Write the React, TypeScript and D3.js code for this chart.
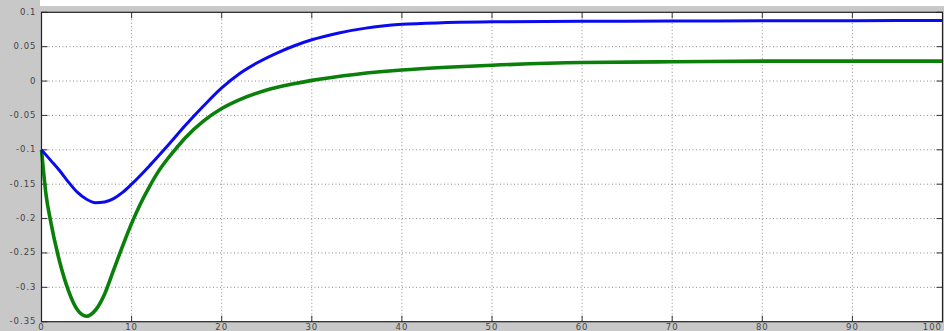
import React from "react";
import * as d3 from "d3";

const width = 944;
const height = 331;
const plot = { left: 41.5, right: 942.5, top: 12.3, bottom: 321.7 };

// time samples
const blueT = [0, 1, 2, 3, 4, 5, 6, 7, 8, 9, 10, 12, 14, 16, 18, 20, 22, 24, 26, 28, 30, 33, 36, 40, 45, 50, 60, 70, 80, 90, 100];
const blueV = [-0.1, -0.115, -0.13, -0.147, -0.162, -0.172, -0.177, -0.176, -0.171, -0.162, -0.15, -0.123, -0.094, -0.064, -0.036, -0.01, 0.011, 0.027, 0.04, 0.051, 0.06, 0.07, 0.077, 0.0825, 0.085, 0.0863, 0.0869, 0.0873, 0.0876, 0.0878, 0.088];

const greenT = [0, 0.5, 1, 2, 3, 4, 5, 6, 7, 8, 9, 10, 11, 12, 13, 14, 15, 16, 18, 20, 22, 25, 28, 30, 35, 40, 45, 50, 60, 70, 80, 90, 100];
const greenV = [-0.1, -0.165, -0.203, -0.262, -0.305, -0.333, -0.342, -0.333, -0.31, -0.275, -0.24, -0.207, -0.178, -0.153, -0.131, -0.113, -0.097, -0.082, -0.058, -0.04, -0.027, -0.013, -0.004, 0.001, 0.01, 0.016, 0.02, 0.023, 0.027, 0.028, 0.029, 0.029, 0.029];

const xTicks = [0, 10, 20, 30, 40, 50, 60, 70, 80, 90, 100];
const yTicks = [0.1, 0.05, 0, -0.05, -0.1, -0.15, -0.2, -0.25, -0.3, -0.35];

const x = d3.scaleLinear().domain([0, 100]).range([plot.left, plot.right]);
const y = d3.scaleLinear().domain([-0.35, 0.1]).range([plot.bottom, plot.top]);

const line = d3
  .line<[number, number]>()
  .x((d) => x(d[0]))
  .y((d) => y(d[1]))
  .curve(d3.curveMonotoneX);

const zip = (t: number[], v: number[]) => t.map((d, i) => [d, v[i]] as [number, number]);

const tickLen = 6;
const font = { fontFamily: "DejaVu Sans, sans-serif", fontSize: 8.5, letterSpacing: 1, fill: "#444" };

export default function App() {
  return (
    <svg width={width} height={height} style={{ position: "absolute", left: 0, top: 0 }}>
      <rect x={0} y={0} width={width} height={height} fill="#c8c8c8" />
      <rect x={40} y={0} width={width - 40} height={6} fill="#fff" />
      <rect x={plot.left} y={plot.top} width={plot.right - plot.left} height={plot.bottom - plot.top} fill="#fff" />

      {/* dotted grid */}
      <g stroke="#8c8c8c" strokeWidth={1} strokeDasharray="1,2.5">
        {xTicks.slice(1, -1).map((t) => (
          <line key={"gx" + t} x1={x(t)} x2={x(t)} y1={plot.top} y2={plot.bottom} />
        ))}
        {yTicks.slice(1, -1).map((t) => (
          <line key={"gy" + t} x1={plot.left} x2={plot.right} y1={y(t)} y2={y(t)} />
        ))}
      </g>

      {/* inward ticks on all four sides */}
      <g stroke="#333" strokeWidth={1}>
        {xTicks.map((t) => (
          <g key={"tx" + t}>
            <line x1={x(t)} x2={x(t)} y1={plot.bottom} y2={plot.bottom - tickLen} />
            <line x1={x(t)} x2={x(t)} y1={plot.top} y2={plot.top + tickLen} />
          </g>
        ))}
        {yTicks.map((t) => (
          <g key={"ty" + t}>
            <line x1={plot.left} x2={plot.left + tickLen} y1={y(t)} y2={y(t)} />
            <line x1={plot.right} x2={plot.right - tickLen} y1={y(t)} y2={y(t)} />
          </g>
        ))}
      </g>

      <path d={line(zip(greenT, greenV)) ?? ""} fill="none" stroke="#0a800a" strokeWidth={3.6} strokeLinejoin="round" />
      <path d={line(zip(blueT, blueV)) ?? ""} fill="none" stroke="#0a0af0" strokeWidth={3} strokeLinejoin="round" />

      <rect x={plot.left} y={plot.top} width={plot.right - plot.left} height={plot.bottom - plot.top} fill="none" stroke="#222" strokeWidth={1.2} />

      {yTicks.map((t) => (
        <text key={"ly" + t} x={plot.left - 5} y={y(t)} textAnchor="end" dominantBaseline="middle" {...font}>
          {String(t)}
        </text>
      ))}
      {xTicks.map((t) => (
        <text key={"lx" + t} x={t === 100 ? 942 : x(t)} y={330} textAnchor={t === 100 ? "end" : "middle"} {...font}>
          {String(t)}
        </text>
      ))}
    </svg>
  );
}
